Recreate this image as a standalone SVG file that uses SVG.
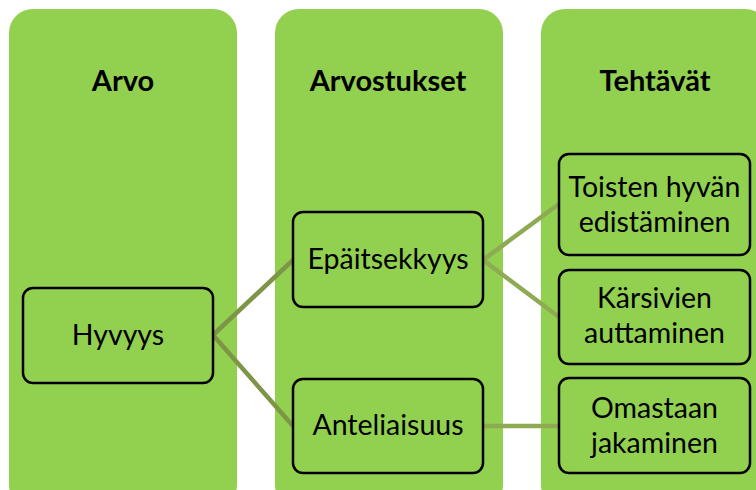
<svg xmlns="http://www.w3.org/2000/svg" width="756" height="490" viewBox="0 0 756 490">
<style>
.col{fill:#92d050;}
.node{fill:#92d050;stroke:#000;stroke-width:2.5;}
.hdr{font-family:Lato,"Liberation Sans",sans-serif;font-weight:bold;font-size:29px;fill:#000;text-anchor:middle;}
.lbl{font-family:Lato,"Liberation Sans",sans-serif;font-size:28.5px;fill:#000;text-anchor:middle;}
.conn{stroke:#8eaa52;stroke-width:4.5;fill:none;}
.conn2{stroke:#7e9446;stroke-width:4.5;fill:none;}
</style>
<rect width="756" height="490" fill="#fff"/>
<g id="col-arvo"><rect class="col" x="9" y="9" width="228" height="500" rx="24"/><text class="hdr" x="123" y="91">Arvo</text></g>
<g id="col-arvostukset"><rect class="col" x="275" y="9" width="228" height="500" rx="24"/><text class="hdr" x="388" y="91">Arvostukset</text></g>
<g id="col-tehtavat"><rect class="col" x="541" y="9" width="228" height="500" rx="24"/><text class="hdr" x="655" y="91">Tehtävät</text></g>
<g id="connectors">
<line class="conn2" x1="213" y1="335" x2="293" y2="260"/>
<line class="conn2" x1="213" y1="335" x2="293" y2="426"/>
<line class="conn" x1="483" y1="260" x2="559" y2="204"/>
<line class="conn" x1="483" y1="260" x2="559" y2="317"/>
<line class="conn" x1="483" y1="426" x2="559" y2="426"/>
</g>
<g id="hyvyys"><rect class="node" x="23" y="288" width="190" height="95" rx="10"/><text class="lbl" x="118" y="345">Hyvyys</text></g>
<g id="epaitsekkyys"><rect class="node" x="293" y="212" width="190" height="95" rx="10"/><text class="lbl" x="388" y="269">Epäitsekkyys</text></g>
<g id="anteliaisuus"><rect class="node" x="293" y="379" width="190" height="94" rx="10"/><text class="lbl" x="388" y="435">Anteliaisuus</text></g>
<g id="toisten"><rect class="node" x="559" y="154" width="191" height="101" rx="10"/><text class="lbl" x="654.5" y="197">Toisten hyvän</text><text class="lbl" x="654.5" y="232">edistäminen</text></g>
<g id="karsivien"><rect class="node" x="559" y="270" width="191" height="94" rx="10"/><text class="lbl" x="654.5" y="308">Kärsivien</text><text class="lbl" x="654.5" y="343">auttaminen</text></g>
<g id="omastaan"><rect class="node" x="559" y="378" width="191" height="95" rx="10"/><text class="lbl" x="654.5" y="418">Omastaan</text><text class="lbl" x="654.5" y="453">jakaminen</text></g>
</svg>
